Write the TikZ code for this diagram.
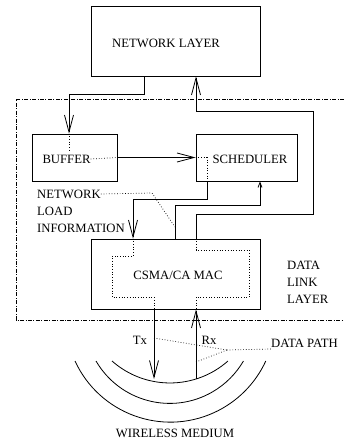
\documentclass[tikz,border=0pt]{standalone}
\usepackage{fontspec}
\setmainfont{Liberation Serif}
\usetikzlibrary{arrows.meta}
\begin{document}
\begin{tikzpicture}[x=1pt,y=-1pt,
  every node/.style={font=\fontsize{12.7}{15}\selectfont, inner sep=0pt},
  box/.style={draw, line width=0.8pt, rectangle},
  conn/.style={line width=0.8pt},
  arr/.style={conn, -{Straight Barb[length=17pt,width=9pt]}},
  smallarr/.style={conn, -{Straight Barb[length=5pt,width=4pt]}},
  dotline/.style={line width=0.7pt, dash pattern=on 0.7pt off 2pt},
  dashdot/.style={line width=0.7pt, dash pattern=on 4pt off 1.6pt on 0.7pt off 1.6pt},
  wave/.style={line width=0.8pt}]
\useasboundingbox (0,0) rectangle (344,443);

% data link layer frame
\draw[dashdot] (344,99) -- (16,99) -- (16,320) -- (344,320);

% boxes
\node[box, minimum width=169pt, minimum height=70pt] (nl) at (175.5,41) {};
\node (nltext) at (166,43) {NETWORK LAYER};
\node[box, minimum width=85pt, minimum height=47pt] (buf) at (74.5,157.5) {};
\node (buftext) at (66.5,159) {BUFFER};
\node[box, minimum width=101pt, minimum height=47pt] (sch) at (246.5,157.5) {};
\node (schtext) at (250,159) {SCHEDULER};
\node[box, minimum width=169pt, minimum height=70pt] (mac) at (175.5,274) {};
\node (mactext) at (178,275) {CSMA/CA MAC};

% labels
\node[anchor=west] (nli1) at (37,194) {NETWORK};
\node[anchor=west] (nli2) at (37,211) {LOAD};
\node[anchor=west] (nli3) at (37,228) {INFORMATION};
\node[anchor=west] (dll1) at (287,265) {DATA};
\node[anchor=west] (dll2) at (287,282) {LINK};
\node[anchor=west] (dll3) at (287,299) {LAYER};
\node (tx) at (140,340) {Tx};
\node (rx) at (209,340) {Rx};
\node[anchor=west] (dp) at (271,343) {DATA PATH};
\node (wm) at (175,433) {WIRELESS MEDIUM};

% solid connectors
\draw[arr] (nl.south -| 144,0) -- (144,94) -- (69,94) -- (buf.north -| 69,0);
\draw[arr] (mac.north -| 196,0) -- (196,214) -- (313,214) -- (313,111) -- (196,111) -- (nl.south -| 196,0);
\draw[arr] (buf.east) -- (sch.west);
\draw[arr] (sch.south -| 207,0) -- (207,199) -- (133,199) -- (mac.north -| 133,0);
\draw[smallarr] (mac.north -| 175,0) -- (175,205) -- (260,205) -- (sch.south -| 260,0);
\coordinate (txend) at (154,379);
\coordinate (rxstart) at (196,379);
\draw[arr] (mac.south -| 154,0) -- (txend);
\draw[arr] (rxstart) -- (mac.south -| 196,0);

% dotted paths
\draw[dotline] (buf.north -| 69,0) -- (69,150);
\draw[dotline] (buftext.east) -- (buf.east);
\draw[dotline] (sch.west) -- (207,157.5) -- (sch.south -| 207,0);
\draw[dotline] (mac.north -| 133,0) -- (133,256) -- (112,256) -- (112,297) -- (154,297) -- (mac.south -| 154,0);
\draw[dotline] (mac.north -| 196,0) -- (196,250) -- (249,250) -- (249,297) -- (196,297) -- (mac.south -| 196,0);
\draw[dotline] (nli1.east) -- (152,193) -- (175,227);
\coordinate (dpj) at (227,350);
\draw[dotline] (154,338) -- (dpj);
\draw[dotline] (196,362) -- (dpj);
\draw[dotline] (dpj) -- (271,349);

% wireless medium arcs
\draw[wave] (112,361) arc[start angle=228.5, end angle=311.5, radius=87.5pt];
\draw[wave] (96,361) arc[start angle=210.2, end angle=329.8, radius=85.3pt];
\draw[wave] (75,361) arc[start angle=204.7, end angle=335.3, radius=105pt];
\end{tikzpicture}
\end{document}
